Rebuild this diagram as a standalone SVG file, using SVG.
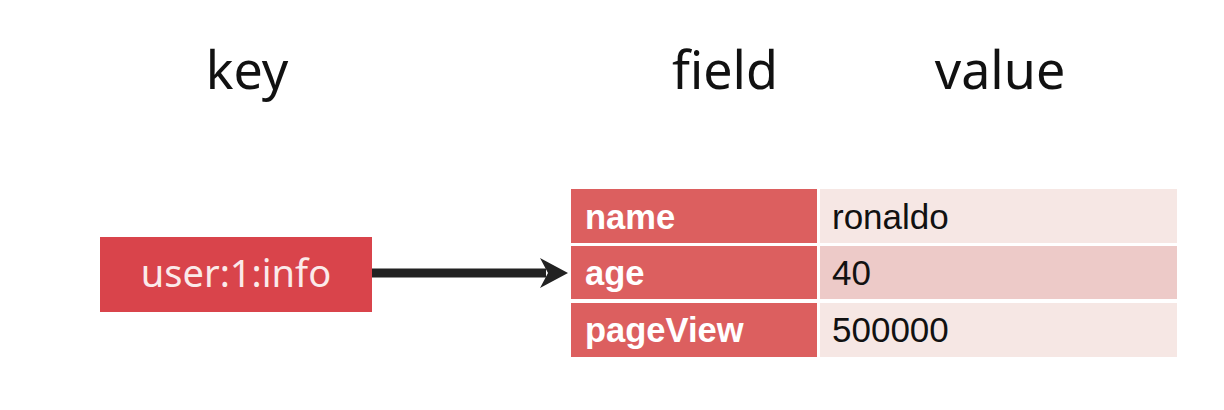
<svg xmlns="http://www.w3.org/2000/svg" width="1224" height="410" viewBox="0 0 1224 410">
<style>
.hdr{font-family:"Noto Sans","Open Sans",sans-serif;font-size:52px;fill:#111}
.fld{fill:#dc5f5f}
.ftx{font-family:"Liberation Sans",Arial,sans-serif;font-weight:bold;font-size:34.5px;fill:#fff}
.vtx{font-family:"Liberation Sans",Arial,sans-serif;font-size:35px;fill:#111}
</style>
<rect width="1224" height="410" fill="#fff"/>
<g id="headers">
<text class="hdr" x="247" y="89" text-anchor="middle">key</text>
<text class="hdr" x="725" y="89" text-anchor="middle">field</text>
<text class="hdr" x="1000" y="89" text-anchor="middle">value</text>
</g>
<g id="key">
<rect x="100" y="237" width="272" height="75" fill="#d9444b"/>
<text x="236" y="287" text-anchor="middle" font-family="Noto Sans, Open Sans, sans-serif" font-size="38" fill="#fbeaea">user:1:info</text>
</g>
<g id="connectors">
<line x1="372" y1="273" x2="546" y2="273" stroke="#222" stroke-width="9"/>
<path d="M540 258 L568 273 L540 288 L548 273 Z" fill="#222"/>
</g>
<g id="row-name">
<rect class="fld" x="571" y="189" width="246" height="54"/>
<rect x="820" y="189" width="357" height="54" fill="#f6e7e4"/>
<text class="ftx" x="585" y="229">name</text>
<text class="vtx" x="832" y="229">ronaldo</text>
</g>
<g id="row-age">
<rect class="fld" x="571" y="246" width="246" height="53"/>
<rect x="820" y="246" width="357" height="53" fill="#edcac8"/>
<text class="ftx" x="585" y="285">age</text>
<text class="vtx" x="832" y="285">40</text>
</g>
<g id="row-pageView">
<rect class="fld" x="571" y="303" width="246" height="54"/>
<rect x="820" y="303" width="357" height="54" fill="#f6e7e4"/>
<text class="ftx" x="585" y="342">pageView</text>
<text class="vtx" x="832" y="342">500000</text>
</g>
</svg>
